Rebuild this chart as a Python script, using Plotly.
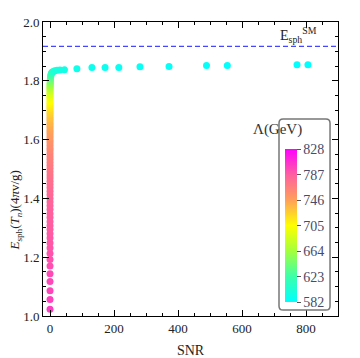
import plotly.graph_objs as go

# --- data ---
snr = [0, 0, 0, 0, 0, 0, 0, 0, 0, 0,
       0, 0, 0, 0, 0, 0, 0, 0, 0, 0,
       0, 0, 0, 0, 0, 0, 0, 0, 0, 0,
       0, 0, 0, 0, 0, 0, 0, 0, 0, 0,
       0, 0, 0, 0, 0, 0, 0, 0, 0, 0,
       0, 0, 0, 0, 0, 0, 0, 0, 0, 0,
       0, 0, 0, 0, 0.1, 0.1, 0.2, 0.2, 0.3, 0.4,
       0.5, 0.6, 0.8, 1.0, 1.3, 1.7, 2.2, 2.9, 3.8, 5.2,
       7.4, 10.5, 15, 22, 31, 45, 84, 131, 172, 215,
       281, 372, 489, 554, 772, 806]

esph = [1.023, 1.056, 1.086, 1.117, 1.144, 1.170, 1.192, 1.213, 1.231, 1.248,
        1.265, 1.280, 1.294, 1.307, 1.321, 1.335, 1.348, 1.362, 1.375, 1.388,
        1.400, 1.412, 1.424, 1.436, 1.447, 1.458, 1.469, 1.480, 1.491, 1.502,
        1.512, 1.522, 1.532, 1.542, 1.552, 1.562, 1.571, 1.580, 1.589, 1.598,
        1.607, 1.616, 1.624, 1.632, 1.640, 1.648, 1.656, 1.664, 1.671, 1.678,
        1.685, 1.692, 1.699, 1.706, 1.712, 1.718, 1.724, 1.730, 1.736, 1.742,
        1.747, 1.752, 1.757, 1.762, 1.767, 1.772, 1.776, 1.780, 1.784, 1.788,
        1.792, 1.796, 1.800, 1.804, 1.808, 1.812, 1.816, 1.820, 1.824, 1.827,
        1.830, 1.832, 1.834, 1.836, 1.837, 1.838, 1.841, 1.845, 1.845, 1.845,
        1.848, 1.849, 1.852, 1.852, 1.855, 1.855]

lam = [802, 800, 798, 797, 796, 794, 793, 792, 791, 790,
       790, 789, 788, 788, 787, 787, 786, 786, 785, 784,
       783, 782, 781, 780, 778, 777, 776, 775, 773, 772,
       770, 769, 767, 765, 764, 762, 760, 758, 756, 754,
       751, 749, 747, 745, 743, 741, 738, 736, 733, 731,
       728, 725, 722, 718, 715, 712, 709, 706, 703, 699,
       696, 692, 688, 684, 680, 676, 672, 668, 664, 660,
       656, 652, 648, 644, 640, 635, 630, 625, 620, 615,
       610, 606, 602, 599, 596, 594, 592, 590, 589, 588,
       587, 586, 585, 584, 583, 582]

esph_sm = 1.917
lam_ticks = [582, 623, 664, 705, 746, 787, 828]

serif = "Liberation Serif, Times New Roman, serif"

cscale = [[0.0, "rgb(0,255,255)"],
          [1/6, "rgb(60,255,170)"],
          [2/6, "rgb(165,255,60)"],
          [3/6, "rgb(255,255,0)"],
          [4/6, "rgb(255,160,90)"],
          [5/6, "rgb(255,95,160)"],
          [1.0, "rgb(255,0,255)"]]

fig = go.Figure()

fig.add_trace(go.Scatter(
    x=snr, y=esph, mode="markers",
    marker=dict(size=7, color=lam, colorscale=cscale,
                cmin=582, cmax=828, line=dict(width=0),
                colorbar=dict(
                    tickvals=lam_ticks, ticks="outside", ticklen=4,
                    tickcolor="#555",
                    tickfont=dict(family=serif, size=14, color="#4a4a66"),
                    thickness=12, lenmode="pixels", len=153,
                    x=0.82, xanchor="left", y=0.047, yanchor="bottom",
                    xpad=0, ypad=0,
                    bgcolor="rgba(0,0,0,0)", borderwidth=0,
                    outlinewidth=0)),
    showlegend=False))

# dashed SM reference line
fig.add_shape(type="line", xref="paper", x0=0, x1=1, y0=esph_sm, y1=esph_sm,
              line=dict(color="rgb(70,70,255)", width=1.3, dash="5px,3px"))

# rounded box around the legend bar
x0, x1, y0, y1, r = 0.800, 0.973, 0.020, 0.670, 0.014
box = (f"M {x0+r},{y0} L {x1-r},{y0} Q {x1},{y0} {x1},{y0+r} "
       f"L {x1},{y1-r} Q {x1},{y1} {x1-r},{y1} "
       f"L {x0+r},{y1} Q {x0},{y1} {x0},{y1-r} "
       f"L {x0},{y0+r} Q {x0},{y0} {x0+r},{y0} Z")
fig.add_shape(type="path", path=box, xref="paper", yref="paper",
              fillcolor="white", line=dict(color="#777", width=1.5), layer="above")

fig.add_annotation(x=0.886, y=0.636, xref="paper", yref="paper", text="Λ(GeV)",
                   showarrow=False, font=dict(family=serif, size=15, color="#333"))

fig.add_annotation(x=775, y=1.957, text="E<sub>sph</sub><sup>SM</sup>",
                   showarrow=False, font=dict(family=serif, size=14, color="#222"))

# y-axis title, placed by hand near the left edge
fig.add_annotation(x=-0.094, y=0.36, xref="paper", yref="paper", textangle=-90,
                   xanchor="center", yanchor="middle",
                   text="<i>E</i><sub>sph</sub>(<i>T</i><sub><i>n</i></sub>)(4<i>π</i>v/g)",
                   showarrow=False, font=dict(family=serif, size=13, color="#222"))

axis_common = dict(showline=True, linecolor="black", linewidth=1, mirror="allticks",
                   ticks="inside", ticklen=6, tickcolor="black", showgrid=False,
                   zeroline=False, automargin=False,
                   tickfont=dict(family=serif, size=13, color="#222"))

fig.update_xaxes(range=[-22, 900], tickvals=[0, 200, 400, 600, 800],
                 minor=dict(dtick=50, tick0=0, ticks="inside", ticklen=3, tickcolor="black"),
                 title=dict(text="SNR", font=dict(family=serif, size=14, color="#222"),
                            standoff=14),
                 **axis_common)

fig.update_yaxes(range=[1.0, 2.0], tickvals=[1.0, 1.2, 1.4, 1.6, 1.8, 2.0],
                 ticktext=["1.0", "1.2", "1.4", "1.6", "1.8", "2.0"],
                 minor=dict(dtick=0.05, tick0=1.0, ticks="inside", ticklen=3, tickcolor="black"),
                 **axis_common)

# the page body adds an 8px offset, so the figure is drawn a little smaller
fig.update_layout(width=352, height=350,
                  margin=dict(l=35, r=22, t=14, b=42, autoexpand=False),
                  paper_bgcolor="white", plot_bgcolor="white")

fig.write_html("out.html")
